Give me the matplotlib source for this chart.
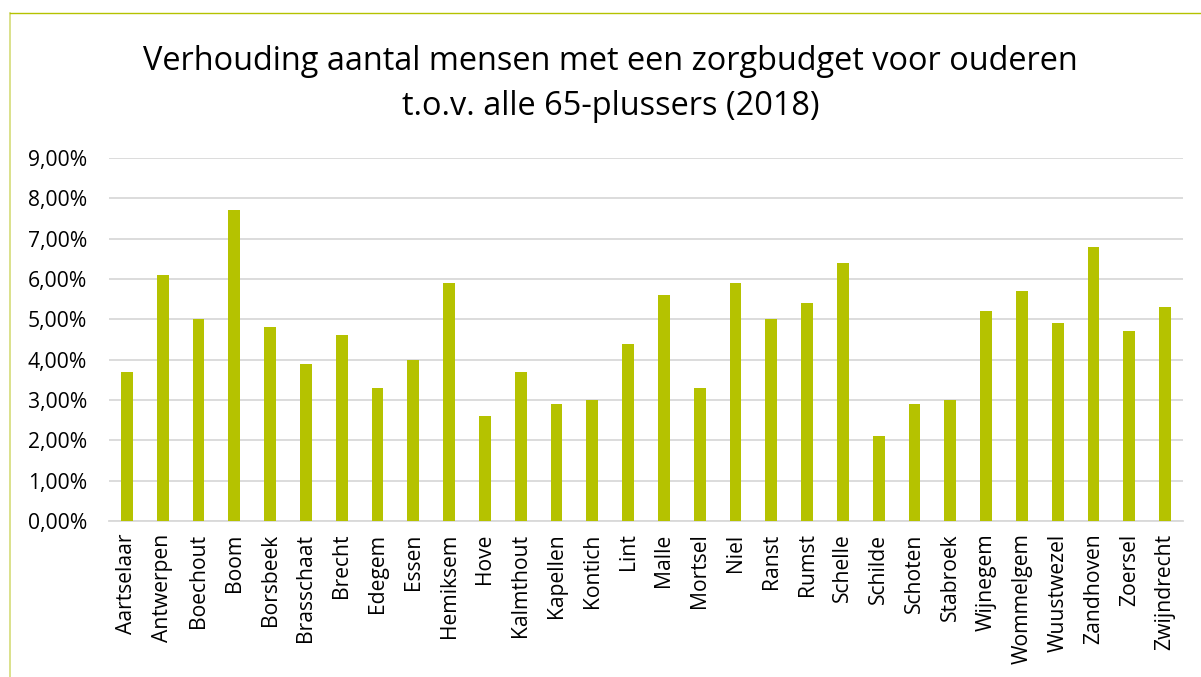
import matplotlib
matplotlib.use("Agg")
import matplotlib.pyplot as plt
from matplotlib.ticker import FuncFormatter
from matplotlib.lines import Line2D

gemeenten = ["Aartselaar", "Antwerpen", "Boechout", "Boom", "Borsbeek", "Brasschaat",
             "Brecht", "Edegem", "Essen", "Hemiksem", "Hove", "Kalmthout", "Kapellen",
             "Kontich", "Lint", "Malle", "Mortsel", "Niel", "Ranst", "Rumst", "Schelle",
             "Schilde", "Schoten", "Stabroek", "Wijnegem", "Wommelgem", "Wuustwezel",
             "Zandhoven", "Zoersel", "Zwijndrecht"]
aandeel = [3.7, 6.1, 5.0, 7.7, 4.8, 3.9, 4.6, 3.3, 4.0, 5.9, 2.6, 3.7, 2.9, 3.0, 4.4,
           5.6, 3.3, 5.9, 5.0, 5.4, 6.4, 2.1, 2.9, 3.0, 5.2, 5.7, 4.9, 6.8, 4.7, 5.3]
y_ticks = [0, 1, 2, 3, 4, 5, 6, 7, 8, 9]
titel = "Verhouding aantal mensen met een zorgbudget voor ouderen\nt.o.v. alle 65-plussers (2018)"

plt.rcParams['font.family'] = ['Open Sans', 'DejaVu Sans']

W, H = 1201, 677
fig = plt.figure(figsize=(W / 100, H / 100), dpi=100)
ax = fig.add_axes([109 / W, 1 - 521 / H, (1183 - 109) / W, (521 - 158) / H])

x = list(range(len(gemeenten)))
ax.bar(x, aandeel, width=0.33, color="#b5c200", zorder=3)
ax.set_xlim(-0.5, len(gemeenten) - 0.5)
ax.set_ylim(0, 9)
ax.set_yticks(y_ticks)
ax.yaxis.set_major_formatter(FuncFormatter(lambda v, p: f"{v:.2f}%".replace(".", ",")))
ax.grid(axis="y", color="#d9d9d9", linewidth=1.3, zorder=0)
for s in ["top", "right", "left"]:
    ax.spines[s].set_visible(False)
ax.spines["bottom"].set_color("#d9d9d9")
ax.spines["bottom"].set_linewidth(1.3)
ax.set_xticks(x)
ax.set_xticklabels(gemeenten, rotation=90, color="#000000")
ax.tick_params(axis="both", length=0, labelsize=15.2)
ax.tick_params(axis="y", pad=16)
ax.tick_params(axis="x", pad=9)

fig.text(610.5 / W, 1 - 84 / H, titel, ha="center", va="center", fontsize=23.4,
         linespacing=1.45, color="#000000")

# chart-area border (top and left edges visible)
fig.add_artist(Line2D([10 / W, 10 / W], [0, 1 - 13 / H], transform=fig.transFigure,
                      color="#d4dc78", linewidth=1.2))
fig.add_artist(Line2D([10 / W, 1], [1 - 13 / H, 1 - 13 / H], transform=fig.transFigure,
                      color="#b5c200", linewidth=1.0))

fig.savefig("out.png", dpi=100)
